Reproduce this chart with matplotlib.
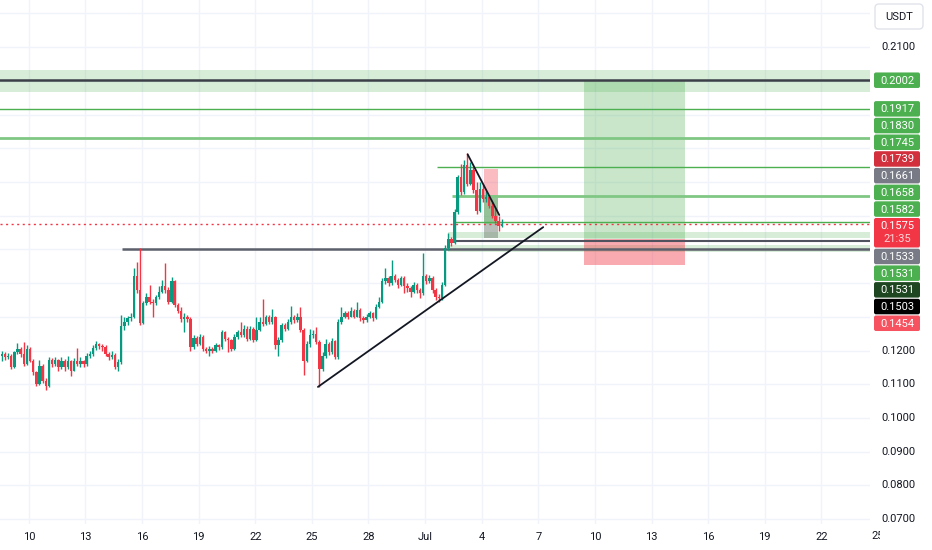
import matplotlib
matplotlib.use("Agg")
import matplotlib.pyplot as plt
from matplotlib.patches import FancyBboxPatch, Rectangle
from matplotlib.transforms import Bbox, TransformedBbox
import numpy as np

plt.rcParams["font.family"] = ["Roboto", "DejaVu Sans"]

# ---------------------------------------------------------------------------
# Data: 4h candles, open = previous close (first open given separately)
# ---------------------------------------------------------------------------
first_open = 0.1185
start_day = 8.5          # Jun 8, 12:00 (x axis in days of June; Jul 1 = 31)
candle_hours = 4

closes = [
    0.1190, 0.1180, 0.1185, 0.1150, 0.1195, 0.1205, 0.1190, 0.1160, 0.1205, 0.1170,
    0.1135, 0.1100, 0.1155, 0.1110, 0.1095, 0.1172, 0.1160, 0.1172, 0.1150, 0.1170,
    0.1150, 0.1170, 0.1140, 0.1170, 0.1160, 0.1168, 0.1160, 0.1185, 0.1190, 0.1208,
    0.1218, 0.1212, 0.1210, 0.1190, 0.1180, 0.1188, 0.1150, 0.1165, 0.1273, 0.1285,
    0.1296, 0.1300, 0.1420, 0.1380, 0.1282, 0.1340, 0.1360, 0.1345, 0.1340, 0.1358,
    0.1375, 0.1392, 0.1380, 0.1345, 0.1405, 0.1335, 0.1318, 0.1292, 0.1300, 0.1292,
    0.1210, 0.1238, 0.1220, 0.1240, 0.1205, 0.1200, 0.1205, 0.1198, 0.1215, 0.1210,
    0.1255, 0.1235, 0.1230, 0.1205, 0.1240, 0.1255, 0.1245, 0.1265, 0.1235, 0.1265,
    0.1230, 0.1262, 0.1285, 0.1280, 0.1298, 0.1285, 0.1298, 0.1215, 0.1230, 0.1275,
    0.1265, 0.1285, 0.1300, 0.1290, 0.1300, 0.1262, 0.1170, 0.1218, 0.1245, 0.1250,
    0.1225, 0.1145, 0.1185, 0.1220, 0.1195, 0.1228, 0.1180, 0.1285, 0.1300, 0.1310,
    0.1300, 0.1318, 0.1300, 0.1320, 0.1295, 0.1290, 0.1300, 0.1310, 0.1295, 0.1330,
    0.1345, 0.1405, 0.1415, 0.1400, 0.1420, 0.1410, 0.1395, 0.1415, 0.1390, 0.1385,
    0.1375, 0.1395, 0.1380, 0.1370, 0.1420, 0.1405, 0.1415, 0.1380, 0.1360, 0.1355,
    0.1395, 0.1505, 0.1530, 0.1520, 0.1610, 0.1715, 0.1670, 0.1750, 0.1695, 0.1735,
    0.1676, 0.1615, 0.1680, 0.1650, 0.1655, 0.1630, 0.1600, 0.1585, 0.1570, 0.1575,
]
highs = [
    0.1200, 0.1196, 0.1192, 0.1190, 0.1200, 0.1222, 0.1210, 0.1225, 0.1215, 0.1210,
    0.1175, 0.1140, 0.1172, 0.1160, 0.1118, 0.1180, 0.1178, 0.1182, 0.1175, 0.1180,
    0.1175, 0.1185, 0.1172, 0.1178, 0.1207, 0.1180, 0.1172, 0.1192, 0.1200, 0.1215,
    0.1228, 0.1222, 0.1218, 0.1215, 0.1195, 0.1198, 0.1192, 0.1175, 0.1305, 0.1298,
    0.1302, 0.1310, 0.1445, 0.1463, 0.1504, 0.1348, 0.1372, 0.1395, 0.1352, 0.1365,
    0.1390, 0.1410, 0.1460, 0.1388, 0.1418, 0.1410, 0.1342, 0.1330, 0.1310, 0.1305,
    0.1298, 0.1245, 0.1242, 0.1250, 0.1245, 0.1210, 0.1212, 0.1210, 0.1222, 0.1220,
    0.1262, 0.1258, 0.1240, 0.1235, 0.1248, 0.1262, 0.1285, 0.1275, 0.1272, 0.1272,
    0.1270, 0.1300, 0.1298, 0.1352, 0.1305, 0.1305, 0.1322, 0.1302, 0.1240, 0.1282,
    0.1282, 0.1292, 0.1332, 0.1305, 0.1310, 0.1330, 0.1268, 0.1228, 0.1265, 0.1262,
    0.1270, 0.1230, 0.1195, 0.1235, 0.1225, 0.1238, 0.1232, 0.1292, 0.1330, 0.1318,
    0.1318, 0.1330, 0.1322, 0.1344, 0.1325, 0.1302, 0.1308, 0.1318, 0.1315, 0.1338,
    0.1360, 0.1415, 0.1445, 0.1422, 0.1470, 0.1428, 0.1415, 0.1422, 0.1420, 0.1400,
    0.1392, 0.1402, 0.1400, 0.1385, 0.1490, 0.1428, 0.1425, 0.1420, 0.1385, 0.1368,
    0.1402, 0.1512, 0.1550, 0.1538, 0.1620, 0.1722, 0.1752, 0.1765, 0.1786, 0.1760,
    0.1745, 0.1700, 0.1700, 0.1690, 0.1672, 0.1660, 0.1640, 0.1620, 0.1598, 0.1590,
]
lows = [
    0.1170, 0.1172, 0.1175, 0.1145, 0.1148, 0.1190, 0.1182, 0.1155, 0.1158, 0.1165,
    0.1128, 0.1095, 0.1098, 0.1105, 0.1083, 0.1092, 0.1150, 0.1155, 0.1138, 0.1145,
    0.1140, 0.1145, 0.1125, 0.1138, 0.1155, 0.1152, 0.1150, 0.1155, 0.1178, 0.1185,
    0.1202, 0.1205, 0.1200, 0.1185, 0.1172, 0.1175, 0.1145, 0.1140, 0.1160, 0.1262,
    0.1275, 0.1288, 0.1295, 0.1372, 0.1275, 0.1278, 0.1335, 0.1338, 0.1300, 0.1335,
    0.1352, 0.1370, 0.1372, 0.1338, 0.1340, 0.1328, 0.1310, 0.1285, 0.1255, 0.1285,
    0.1200, 0.1205, 0.1212, 0.1215, 0.1198, 0.1192, 0.1185, 0.1192, 0.1195, 0.1202,
    0.1205, 0.1228, 0.1195, 0.1200, 0.1202, 0.1235, 0.1240, 0.1240, 0.1228, 0.1230,
    0.1225, 0.1228, 0.1258, 0.1272, 0.1275, 0.1278, 0.1280, 0.1205, 0.1185, 0.1225,
    0.1258, 0.1260, 0.1280, 0.1282, 0.1285, 0.1255, 0.1128, 0.1165, 0.1210, 0.1238,
    0.1218, 0.1092, 0.1138, 0.1178, 0.1188, 0.1190, 0.1175, 0.1175, 0.1280, 0.1295,
    0.1292, 0.1298, 0.1295, 0.1298, 0.1288, 0.1282, 0.1285, 0.1295, 0.1288, 0.1292,
    0.1325, 0.1340, 0.1398, 0.1392, 0.1395, 0.1402, 0.1385, 0.1390, 0.1370, 0.1375,
    0.1360, 0.1370, 0.1372, 0.1355, 0.1365, 0.1398, 0.1400, 0.1372, 0.1350, 0.1345,
    0.1350, 0.1390, 0.1498, 0.1510, 0.1515, 0.1605, 0.1662, 0.1665, 0.1688, 0.1690,
    0.1668, 0.1605, 0.1610, 0.1642, 0.1640, 0.1622, 0.1592, 0.1578, 0.1555, 0.1565,
]

# Drawn levels / zones (price)
top_zone = (0.1967, 0.2032)
target_price = 0.2002
level_1917 = 0.1917
level_1830 = 0.1830
level_1745, level_1745_from = 0.1745, 31.63
level_1658, level_1658_from = 0.1658, 32.42
level_1582, level_1582_from = 0.1582, 32.58
last_price = 0.1575
band_upper = (0.1534, 0.1552)
band_lower = (0.1492, 0.1513)
bands_from = 32.21
line_1524, line_1524_from = 0.1524, 32.48
resistance, resistance_from = 0.1501, 14.94

# Position tools: (x0, x1), prices
long_x = (39.42, 44.77)
long_prices = (0.1454, 0.1531, 0.2002)            # stop, entry, target
short_x = (34.12, 34.86)
short_prices = (0.1739, 0.1661, 0.1575, 0.1533)   # stop, entry, last, target

# Trend lines ((x0, y0), (x1, y1))
down_trend = ((33.255, 0.1782), (34.93, 0.1602))
up_trend = ((25.32, 0.1092), (37.26, 0.1566))

# Axis ticks (the last one, Jul 25, sits under the price scale and is cut)
x_ticks = [10, 13, 16, 19, 22, 25, 28, 31, 34, 37, 40, 43, 46, 49, 52]
x_tick_labels = ["10", "13", "16", "19", "22", "25", "28", "Jul", "4", "7",
                 "10", "13", "16", "19", "22"]
x_cut_tick, x_cut_label = 55, "25"
y_grid = [0.07, 0.08, 0.09, 0.10, 0.11, 0.12, 0.13, 0.14, 0.15, 0.16, 0.17,
          0.18, 0.19, 0.20, 0.21, 0.22]
y_labelled = [0.07, 0.08, 0.09, 0.10, 0.11, 0.12, 0.21]

# Right-hand price labels (text, colour)
price_tags = [
    ("0.2002", "#4caf50"),
    ("0.1917", "#4caf50"),
    ("0.1830", "#4caf50"),
    ("0.1745", "#4caf50"),
    ("0.1739", "#d1303c"),
    ("0.1661", "#787b86"),
    ("0.1658", "#4caf50"),
    ("0.1582", "#4caf50"),
    ("0.1575", "#f23645"),
    ("0.1533", "#787b86"),
    ("0.1531", "#4caf50"),
    ("0.1531", "#1e4620"),
    ("0.1503", "#000000"),
    ("0.1454", "#f7525f"),
]
countdown = "21:35"

UP, DOWN = "#089981", "#f23645"
GREEN, LGREEN, DARK = "#4caf50", "#81c784", "#50535e"

# ---------------------------------------------------------------------------
W, H, DPI = 932, 550, 100
fig = plt.figure(figsize=(W / DPI, H / DPI), dpi=DPI)
ax = fig.add_axes([0, 26 / H, 870 / W, 524 / H])

x_min, x_max = 8.47, 54.58
y_min, y_max = 0.06852, 0.2240

# ── grid ────────────────────────────────────────────────────────────────────
for gx in x_ticks:
    ax.axvline(gx, color="#f0f3fa", lw=1, zorder=0)
for gy in y_grid:
    ax.axhline(gy, color="#f0f3fa", lw=1, zorder=0)

# ── zones & levels ──────────────────────────────────────────────────────────
ax.axhspan(*top_zone, color=GREEN, alpha=0.22, lw=0, zorder=1)
ax.axhline(target_price, color="#3c3f48", lw=1.8, zorder=2)
ax.axhline(level_1917, color=GREEN, lw=1, zorder=2)
ax.axhline(level_1830, color=LGREEN, lw=2, zorder=2)
ax.hlines(level_1745, level_1745_from, x_max, color=GREEN, lw=1, zorder=2)
ax.hlines(level_1658, level_1658_from, x_max, color=LGREEN, lw=2, zorder=2)
ax.hlines(level_1582, level_1582_from, x_max, color=GREEN, lw=1, zorder=2)
for lo, hi in (band_upper, band_lower):
    ax.add_patch(Rectangle((bands_from, lo), x_max - bands_from, hi - lo,
                           color=GREEN, alpha=0.22, lw=0, zorder=1))
ax.hlines(line_1524, line_1524_from, x_max, color=DARK, lw=1.5, zorder=2)
ax.hlines(resistance, resistance_from, x_max, color="#5d606b", lw=1.8, zorder=2)
ax.axhline(last_price, color=DOWN, lw=1, ls=(0, (1.5, 2.5)), zorder=2)

# ── long position tool ──────────────────────────────────────────────────────
stop, entry, target = long_prices
ax.add_patch(Rectangle((long_x[0], entry), long_x[1] - long_x[0], target - entry,
                       color=GREEN, alpha=0.3, lw=0, zorder=1))
ax.add_patch(Rectangle((long_x[0], stop), long_x[1] - long_x[0], entry - stop,
                       color=DOWN, alpha=0.42, lw=0, zorder=1))

# ── short position tool ─────────────────────────────────────────────────────
s_stop, s_entry, s_mid, s_target = short_prices
sw = short_x[1] - short_x[0]
ax.add_patch(Rectangle((short_x[0], s_entry), sw, s_stop - s_entry,
                       color=DOWN, alpha=0.33, lw=0, zorder=1))
ax.add_patch(Rectangle((short_x[0], s_mid), sw, s_entry - s_mid,
                       color="#3f8f46", alpha=0.55, lw=0, zorder=1))
ax.add_patch(Rectangle((short_x[0], s_target), sw, s_mid - s_target,
                       color="#7e8a80", alpha=0.55, lw=0, zorder=1))

# ── candles ─────────────────────────────────────────────────────────────────
c = np.array(closes)
o = np.concatenate([[first_open], c[:-1]])
h = np.array(highs)
l = np.array(lows)
t = start_day + (np.arange(len(c)) * candle_hours + 1.5) / 24
cols = np.where(c >= o, UP, DOWN)
ax.vlines(t, l, h, colors=cols, lw=1.0, zorder=3)
body = np.maximum(np.abs(c - o), 0.00025)
ax.bar(t, body, bottom=np.minimum(o, c), width=0.13, color=cols, lw=0, zorder=3)

# ── trend lines ─────────────────────────────────────────────────────────────
for (x0, y0), (x1, y1) in (down_trend, up_trend):
    ax.plot([x0, x1], [y0, y1], color="#131722", lw=1.3, zorder=4,
            solid_capstyle="round")

# ── axes styling ────────────────────────────────────────────────────────────
for s in ax.spines.values():
    s.set_visible(False)
ax.set_xticks(x_ticks)
ax.set_xticklabels(x_tick_labels)
ax.tick_params(axis="x", length=0, pad=6, labelsize=8, labelcolor="#131722")
ax.set_yticks([])
ax.set_xlim(x_min, x_max)
ax.set_ylim(y_min, y_max)

# ── right price scale (figure pixel coords) ────────────────────────────────
ov = fig.add_axes([0, 0, 1, 1], zorder=10)
ov.set_xlim(0, W)
ov.set_ylim(H, 0)
ov.axis("off")
ov.patch.set_alpha(0)


def to_px(price):
    return H - ax.transData.transform((x_min, price))[1]


def to_px_x(day):
    return ax.transData.transform((day, y_min))[0]


# cut-off "25" under the price scale
cut = ov.text(to_px_x(x_cut_tick), 536, x_cut_label, ha="center", va="center",
              fontsize=8, color="#131722")
cut.set_clip_box(TransformedBbox(Bbox([[0, 0], [880, H]]), ov.transData))
cut.set_clip_on(True)

for yv in y_labelled:
    ov.text(898, to_px(yv), f"{yv:.4f}", ha="center", va="center",
            fontsize=8, color="#131722")

ov.add_patch(FancyBboxPatch((875, 4), 48, 25,
                            boxstyle="round,pad=0,rounding_size=4",
                            fc="white", ec="#e0e3eb", lw=1))
ov.text(899, 17, "USDT", ha="center", va="center", fontsize=8, color="#131722")

# first tag sits on its own price; the crowded rest hang as one packed stack
tag_h, gap = 15.5, 1.2
y_top = None
for k, (text, color) in enumerate(price_tags):
    tall = text == f"{last_price:.4f}"
    hh = 29.5 if tall else tag_h
    if k <= 1:
        y_top = to_px(float(text)) - tag_h / 2
    ov.add_patch(FancyBboxPatch((874, y_top), 46, hh,
                                boxstyle="round,pad=0,rounding_size=2",
                                fc=color, ec="none"))
    ov.text(897, y_top + tag_h / 2 + 0.5, text, ha="center", va="center",
            fontsize=8, color="white")
    if tall:
        ov.text(897, y_top + tag_h / 2 + 13.5, countdown, ha="center",
                va="center", fontsize=8, color="#ffd6d9")
    y_top = y_top + hh + gap

fig.savefig("out.png", dpi=DPI, facecolor="white")
